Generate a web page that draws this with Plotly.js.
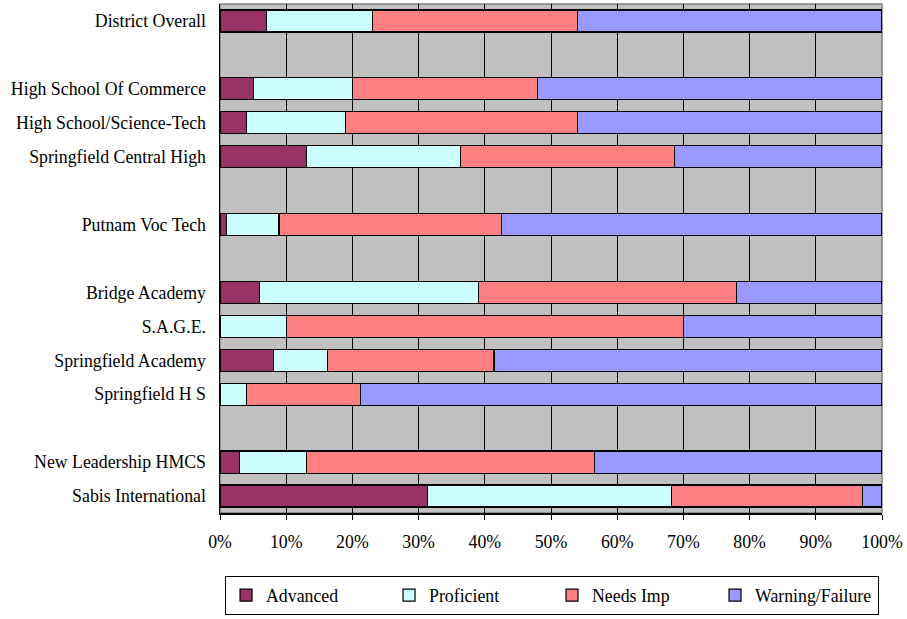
<!DOCTYPE html>
<html>
<head>
<meta charset="utf-8">
<script src="https://cdn.plot.ly/plotly-3.0.1.min.js"></script>
<style>html,body{margin:0;padding:0;background:#fff;}#chart{width:907px;height:619px;}</style>
</head>
<body>
<div id="chart"></div>
<script>
// Categories (blank strings are spacer rows)
const categories = [
  "District Overall", " ",
  "High School Of Commerce", "High School/Science-Tech", "Springfield Central High", "  ",
  "Putnam Voc Tech", "   ",
  "Bridge Academy", "S.A.G.E.", "Springfield Academy", "Springfield H S", "    ",
  "New Leadership HMCS", "Sabis International"
];
const seriesNames = ["Advanced", "Proficient", "Needs Imp", "Warning/Failure"];
const advanced   = [7,    null, 5,  4,  13.1, null, 1,    null, 6,  0,  8.1,  0,    null, 3,    31.3];
const proficient = [16,   null, 15, 15, 23.2, null, 7.9,  null, 33, 10, 8.1,  4,    null, 10.1, 36.9];
const needsImp   = [31,   null, 28, 35, 32.4, null, 33.6, null, 39, 60, 25.2, 17.2, null, 43.5, 28.9];
const warning    = [46,   null, 52, 46, 31.3, null, 57.5, null, 22, 30, 58.6, 78.8, null, 43.4, 2.9];
const xTickVals = [0,10,20,30,40,50,60,70,80,90,100];
const xTickText = ["0%","10%","20%","30%","40%","50%","60%","70%","80%","90%","100%"];

const colors = ["#993366", "#ccffff", "#ff8080", "#9999ff"];
const allSeries = [advanced, proficient, needsImp, warning];
const font = {family: "'Liberation Serif', 'Times New Roman', serif", size: 17.8, color: "#000"};

const traces = allSeries.map((vals, i) => ({
  type: "bar",
  orientation: "h",
  name: seriesNames[i],
  y: categories,
  x: vals,
  marker: {color: colors[i], line: {color: "#000", width: 1.2}},
  hoverinfo: "skip"
}));

const layout = {
  width: 907, height: 619,
  margin: {l: 220, r: 25, t: 4, b: 101},
  paper_bgcolor: "#ffffff",
  plot_bgcolor: "#c0c0c0",
  barmode: "stack",
  bargap: 0.35,
  font: font,
  showlegend: true,
  xaxis: {
    range: [0, 100],
    tickvals: xTickVals, ticktext: xTickText,
    showgrid: true, gridcolor: "#000", gridwidth: 1,
    showline: true, linecolor: "#000", linewidth: 1.5,
    ticks: "outside", ticklen: 5, tickcolor: "#000",
    ticklabelstandoff: 7,
    zeroline: false, fixedrange: true,
    tickfont: font
  },
  yaxis: {
    type: "category",
    categoryorder: "array", categoryarray: categories,
    autorange: "reversed",
    showgrid: false,
    showline: true, linecolor: "#000", linewidth: 1.5,
    ticks: "", ticklabelstandoff: 9,
    fixedrange: true,
    tickfont: font
  },
  shapes: [{
    type: "rect", xref: "paper", yref: "paper", x0: 0, x1: 1, y0: 0, y1: 1,
    line: {color: "#808080", width: 1.5}, layer: "below"
  }],
  legend: {
    orientation: "h",
    x: 0.0076, xanchor: "left",
    y: -0.124, yanchor: "top",
    bgcolor: "#fff", bordercolor: "#000", borderwidth: 1,
    font: font,
    traceorder: "normal",
    entrywidth: 118,
    itemwidth: 30
  }
};

Plotly.newPlot("chart", traces, layout, {displayModeBar: false, staticPlot: true});
</script>
</body>
</html>
